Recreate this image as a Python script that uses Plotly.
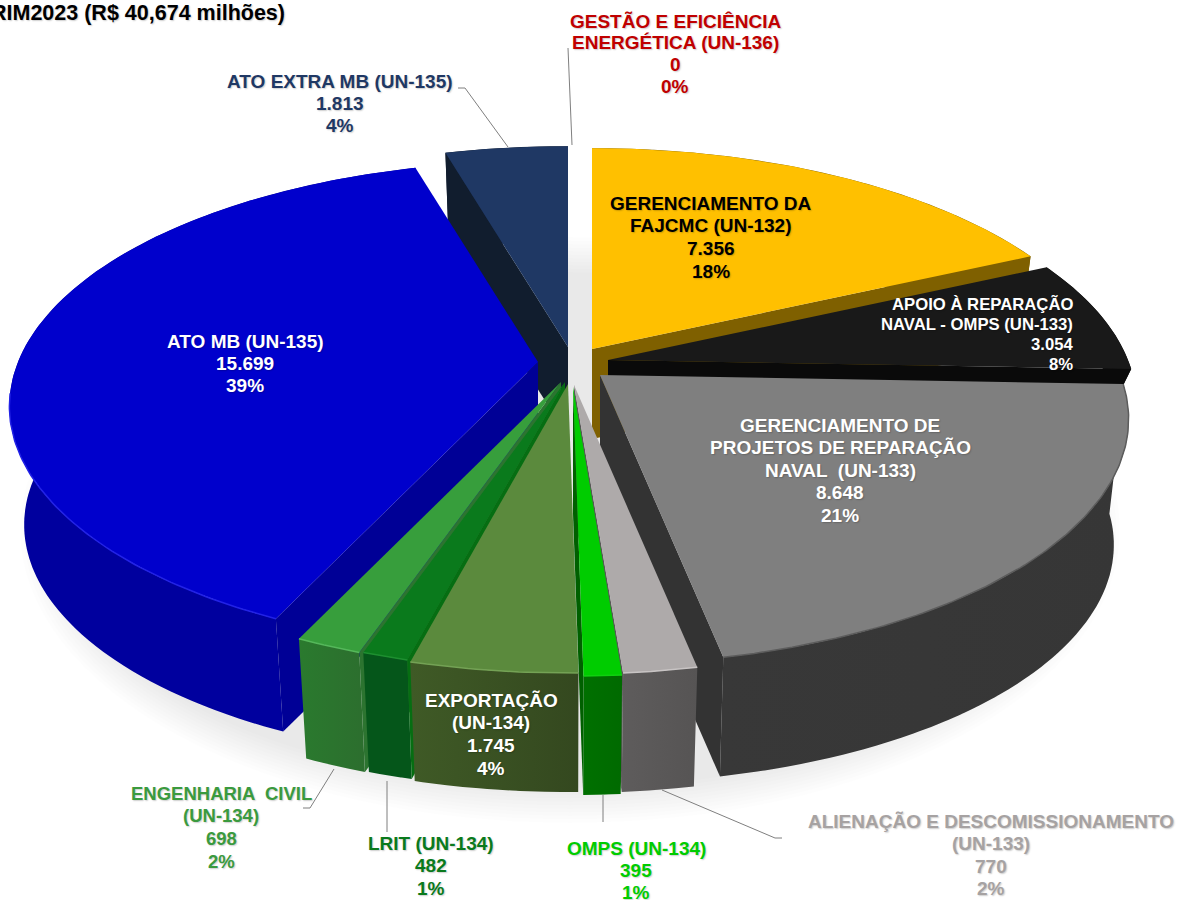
import numpy as np
import plotly.graph_objects as go

# ---- data ----
labels = ["GERENCIAMENTO DA<br>FAJCMC (UN-132)", "APOIO À REPARAÇÃO<br>NAVAL - OMPS (UN-133)",
          "GERENCIAMENTO DE<br>PROJETOS DE REPARAÇÃO<br>NAVAL  (UN-133)",
          "ALIENAÇÃO E DESCOMISSIONAMENTO<br>(UN-133)", "OMPS (UN-134)", "EXPORTAÇÃO<br>(UN-134)",
          "LRIT (UN-134)", "ENGENHARIA  CIVIL<br>(UN-134)", "ATO MB (UN-135)", "ATO EXTRA MB (UN-135)",
          "GESTÃO E EFICIÊNCIA<br>ENERGÉTICA (UN-136)"]
values = [7356, 3054, 8648, 770, 395, 1745, 482, 698, 15699, 1813, 0]
title_text = "RIM2023 (R$ 40,674 milhões)"

# ---- styling ----
top_colors = ["#FFC000", "#191919", "#7F7F7F", "#AEAAAA", "#00CC00", "#5B8A3D", "#0A7A1C", "#379E3C", "#0000CC", "#1F3864", "#C00000"]
wall_left = ["#7F6000", "#0A0A0A", "#383838", "#5E5C5C", "#007000", "#3F5A26", "#05561A", "#2A7A2E", "#00009E", "#111D2E", "#C00000"]
wall_right = ["#7F6000", "#0A0A0A", "#363636", "#565454", "#006A00", "#34481F", "#05561A", "#2C6E2E", "#00009E", "#111D2E", "#C00000"]
cut_colors = ["#7F6000", "#0A0A0A", "#333333", "#595757", "#006000", "#3F5A26", "#066E12", "#2C7430", "#000096", "#111D2E", "#C00000"]
rim_colors = [None, None, "#5C5C5C", "#C8C4C4", "#10D010", "#74A255", "#1E8F30", "#55B85A", "#2222E6", None, None]
rim_share = [0, 0, 1, 1, 1, 1, 1, 1, 0.42, 0, 0]
text_colors = ["#000000", "#FFFFFF", "#FFFFFF", "#A6A2A2", "#00CC00", "#FFFFFF", "#0A7A1C", "#3A9A3E", "#FFFFFF", "#1F3864", "#C00000"]
tip_x = [592, 608, 600, 574, 573, 568, 565, 561, 538, 568, 568]
tip_y = [349, 360, 375, 385, 387, 384, 382, 382, 362, 347, 347]
slice_drop = [90, 30, 127, 127, 127, 127, 127, 127, 120, 90, 0]
label_x = [711, 1075, 840, 991, 636, 491, 431, 221, 245, 340, 675]
label_y = [203, 304, 425, 821, 848, 700, 843, 793, 341, 81, 21]
label_gap = [22.7, 20, 22.5, 22.5, 22, 22.7, 22.5, 22.7, 22, 22, 21.7]
label_anchor = ["center", "right", "center", "center", "center", "center", "center", "center", "center", "center", "center"]
label_size = [19, 16.7, 19, 19, 19, 19, 19, 18.5, 19, 19, 19]

RX, RY, K, SHRINK = 520, 237, 0.18, 0.972
paint_order = [9, 0, 1, 8, 2, 7, 6, 5, 3, 4]
FONT = "Liberation Sans"
SHADOW = "1px 1px 1.5px rgba(0,0,0,0.2)"


def project(i, theta, q=1.0, drop=0.0):
    sn, cs = np.sin(theta), np.cos(theta)
    s = 1 / (1 + K * cs)
    return (tip_x[i] + RX * sn * s * q,
            tip_y[i] - RY * cs * s * q + drop)


total = sum(values)
edges = np.cumsum([0] + values) / total * 2 * np.pi


def poly(x, y, name, color=None, c2=None):
    kw = dict(x=x, y=y, mode="lines", fill="toself", name=name,
              line=dict(width=0), hoverinfo="skip", showlegend=False)
    if c2 is not None and c2 != color:
        kw["fillgradient"] = dict(type="horizontal", colorscale=[[0, color], [1, c2]])
    else:
        kw["fillcolor"] = color
    return go.Scatter(**kw)


fig = go.Figure()
for i in paint_order:
    t0, t1 = edges[i], edges[i + 1]
    th = np.linspace(t0, t1, max(4, int((t1 - t0) * 80)))
    name = labels[i].replace("<br>", " ")
    xt, yt = project(i, th)
    xb, yb = project(i, th, SHRINK, slice_drop[i])
    # outer wall as overlapping quads, so that the silhouette between top and bottom ring is filled
    qx, qy = [], []
    for j in range(len(th) - 1):
        k2 = min(j + 2, len(th) - 1)
        qx += [round(v, 1) for v in (xt[j], xt[k2], xb[k2], xb[j], xt[j])] + [None]
        qy += [round(v, 1) for v in (yt[j], yt[k2], yb[k2], yb[j], yt[j])] + [None]
    fig.add_trace(poly(qx[:-1], qy[:-1], name + " wall", wall_left[i], wall_right[i]))
    # radial cut wall that faces the viewer
    vis = None
    if t1 <= np.pi + 1e-6:
        vis = t1
    elif t0 >= np.pi - 1e-6:
        vis = t0
    if vis is not None:
        xa, ya = project(i, vis)
        xc, yc = project(i, vis, SHRINK, slice_drop[i])
        xd, yd = project(i, vis, 0.0, slice_drop[i])
        fig.add_trace(poly([tip_x[i], xa, xc, xd], [tip_y[i], ya, yc, yd], name + " cut", cut_colors[i]))
    # top face
    fig.add_trace(poly(np.round(np.r_[tip_x[i], xt], 1), np.round(np.r_[tip_y[i], yt], 1), name, top_colors[i]))
    if rim_colors[i]:
        n = max(2, int(len(th) * rim_share[i]))
        fig.add_trace(go.Scatter(x=np.round(xt[:n], 1), y=np.round(yt[:n], 1), mode="lines", showlegend=False,
                                 hoverinfo="skip", line=dict(color=rim_colors[i], width=1.5)))

annotations = [dict(x=287, y=13, text=f"<b>{title_text}</b>", xref="x", yref="y", xanchor="right", yanchor="middle",
                    showarrow=False, font=dict(family=FONT, size=21.5, color="#000000", shadow=SHADOW))]
for i in range(len(values)):
    val = f"{values[i]:,}".replace(",", ".")
    pct = round(values[i] / total * 100)
    lines = labels[i].split("<br>") + [val, f"{pct}%"]
    for j, line in enumerate(lines):
        annotations.append(dict(x=label_x[i], y=label_y[i] + j * label_gap[i], text=f"<b>{line}</b>",
                                xref="x", yref="y", xanchor=label_anchor[i], yanchor="middle",
                                showarrow=False,
                                font=dict(family=FONT, size=label_size[i], color=text_colors[i], shadow=SHADOW)))

shapes = []
for r in np.linspace(0, 1, 11):
    shapes.append(dict(type="circle", xref="x", yref="y", layer="below", line=dict(width=0),
                       x0=570 - 550 + 35 * r, x1=570 + 550 - 35 * r, y0=530 - 293 + 35 * r, y1=530 + 293 - 35 * r,
                       fillcolor="rgba(0,0,0,0.0095)"))
leaders = [[(508, 147), (465, 88), (458, 88)], [(568, 48), (572, 145)], [(334, 769), (310, 808), (303, 808)],
           [(387, 781), (387, 832)], [(603, 795), (603, 822)], [(662, 790), (775, 838), (782, 838)]]
for pts in leaders:
    path = "M " + " L ".join(f"{a} {b}" for a, b in pts)
    shapes.append(dict(type="path", path=path, xref="x", yref="y", line=dict(color="#7F7F7F", width=1)))

fig.update_layout(width=1186, height=900, margin=dict(l=0, r=0, t=0, b=0), paper_bgcolor="white", plot_bgcolor="white",
                  xaxis=dict(range=[0, 1186], visible=False, fixedrange=True),
                  yaxis=dict(range=[900, 0], visible=False, fixedrange=True),
                  showlegend=False, annotations=annotations, shapes=shapes)
fig.write_html("out.html", config={"displayModeBar": False},
               post_script="document.body.style.margin='0';document.body.style.overflow='hidden';")
